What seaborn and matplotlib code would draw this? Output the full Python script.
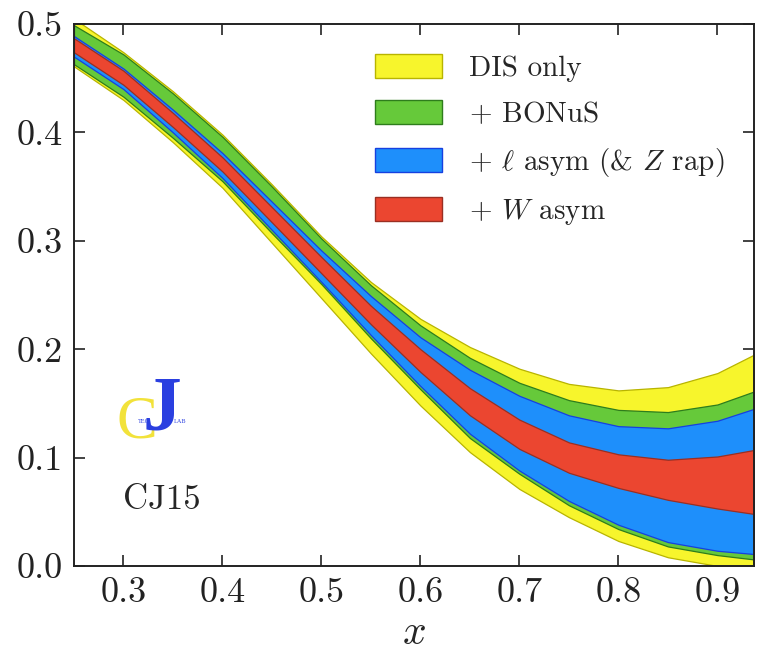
"""CJ15 d/u ratio uncertainty bands for successive data sets."""

import matplotlib
matplotlib.use("Agg")
import matplotlib.pyplot as plt
import seaborn as sns
from matplotlib.patches import Patch

# x grid the band edges were read on
x_vals = [0.25, 0.30, 0.35, 0.40, 0.45, 0.50, 0.55, 0.60, 0.65, 0.70, 0.75, 0.80, 0.85, 0.90, 0.937]

dis_hi = [0.505, 0.474, 0.438, 0.398, 0.352, 0.304, 0.262, 0.228, 0.202, 0.182, 0.168, 0.162, 0.165, 0.178, 0.195]
dis_lo = [0.461, 0.430, 0.391, 0.349, 0.298, 0.247, 0.196, 0.148, 0.105, 0.071, 0.045, 0.023, 0.008, 0.000, -0.005]

bonus_hi = [0.499, 0.472, 0.436, 0.396, 0.350, 0.302, 0.259, 0.222, 0.192, 0.169, 0.153, 0.144, 0.142, 0.149, 0.161]
bonus_lo = [0.463, 0.433, 0.395, 0.355, 0.307, 0.260, 0.210, 0.163, 0.118, 0.085, 0.056, 0.034, 0.018, 0.010, 0.006]

lasym_hi = [0.489, 0.459, 0.421, 0.381, 0.336, 0.291, 0.249, 0.211, 0.181, 0.157, 0.139, 0.129, 0.127, 0.134, 0.145]
lasym_lo = [0.470, 0.440, 0.400, 0.358, 0.310, 0.262, 0.213, 0.166, 0.122, 0.088, 0.060, 0.038, 0.022, 0.014, 0.011]

wasym_hi = [0.487, 0.457, 0.418, 0.377, 0.331, 0.285, 0.240, 0.200, 0.164, 0.135, 0.114, 0.103, 0.098, 0.101, 0.107]
wasym_lo = [0.474, 0.444, 0.405, 0.364, 0.317, 0.270, 0.223, 0.179, 0.139, 0.108, 0.086, 0.072, 0.061, 0.053, 0.048]

labels = [
    "DIS only",
    r"$+$ BONuS",
    r"$+$ $\ell$ asym (& $Z$ rap)",
    r"$+$ $W$ asym",
]
fills = ["#f7f52c", "#66c93a", "#1e8ffb", "#eb4630"]
edges = ["#b8b400", "#2e7d1c", "#1640e0", "#9a2f22"]

xticks = [0.3, 0.4, 0.5, 0.6, 0.7, 0.8, 0.9]
yticks = [0.0, 0.1, 0.2, 0.3, 0.4, 0.5]


def main() -> None:
    sns.set_theme(style="ticks")
    plt.rcParams["mathtext.fontset"] = "cm"
    plt.rcParams["font.family"] = ["cmr10", "DejaVu Serif"]
    plt.rcParams["axes.formatter.use_mathtext"] = True

    fig = plt.figure(figsize=(7.59, 6.52), dpi=100)
    ax = fig.add_axes([0.0975, 0.132, 0.896, 0.831])

    bands = [(dis_lo, dis_hi), (bonus_lo, bonus_hi), (lasym_lo, lasym_hi), (wasym_lo, wasym_hi)]
    for (lo, hi), fc, ec in zip(bands, fills, edges):
        ax.fill_between(x_vals, lo, hi, facecolor=fc, edgecolor=ec, linewidth=0.9, zorder=2)

    ax.set_xlim(0.25, 0.937)
    ax.set_ylim(0.0, 0.5)
    ax.set_xticks(xticks)
    ax.set_yticks(yticks)
    ax.set_xticklabels(["%.1f" % t for t in xticks], fontsize=26)
    ax.set_yticklabels(["%.1f" % t for t in yticks], fontsize=26)
    ax.tick_params(direction="in", length=8, width=1.2, top=True, right=True, pad=8, colors="#222222")
    for sp in ax.spines.values():
        sp.set_linewidth(1.4)
        sp.set_color("#222222")
        sp.set_zorder(5)
    ax.set_xlabel(r"$x$", fontsize=30, labelpad=4)

    handles = [Patch(facecolor=fc, edgecolor=ec, linewidth=1.0) for fc, ec in zip(fills, edges)]
    ax.legend(handles, labels, loc="upper left", bbox_to_anchor=(0.443, 0.944), frameon=False,
              prop={"family": "cmr10", "size": 21}, handlelength=2.3, handleheight=0.85,
              handletextpad=0.9, labelspacing=0.62, borderpad=0, borderaxespad=0)

    # JLab / CTEQ logo and fit label
    ax.text(0.314, 0.132, "C", color="#f2e23a", fontsize=44, family="Liberation Serif",
            ha="center", va="center", zorder=6)
    ax.text(0.339, 0.143, "J", color="#2a3fe0", fontsize=56, family="Liberation Serif",
            fontweight="bold", ha="center", va="center", zorder=7)
    ax.text(0.321, 0.133, "TEQ", color="#2a3fe0", fontsize=4.5, family="Liberation Serif",
            ha="center", va="center", zorder=8)
    ax.text(0.357, 0.133, "LAB", color="#2a3fe0", fontsize=4.5, family="Liberation Serif",
            ha="center", va="center", zorder=8)
    ax.text(0.339, 0.061, "CJ15", fontsize=25, ha="center", va="center", zorder=6)

    fig.savefig("out.png", dpi=100)
    plt.close(fig)


if __name__ == "__main__":
    main()
